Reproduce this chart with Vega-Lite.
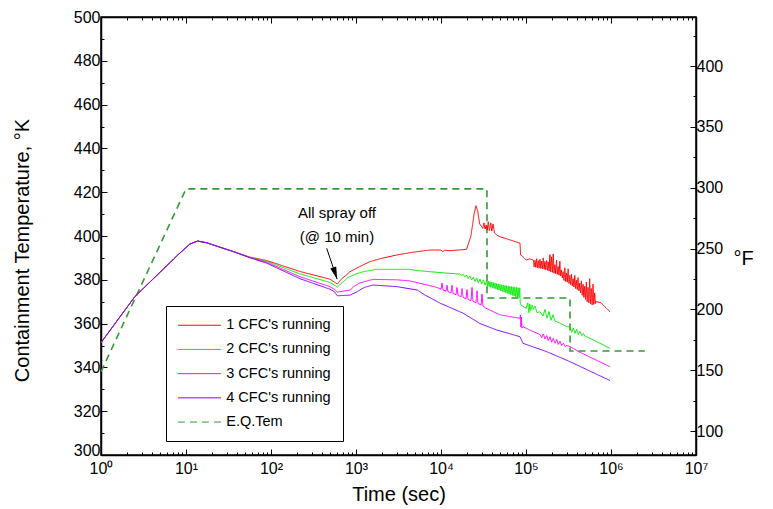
{
"$schema": "https://vega.github.io/schema/vega-lite/v6.json",
"width": 595, "height": 438,
"autosize": {"type": "none"},
"padding": {"left": 101, "top": 17, "right": 77, "bottom": 54},
"background": "white",
"config": {"view": {"stroke": "black", "strokeWidth": 1.5}, "font": "Liberation Sans", "axis": {"grid": false, "labelFont": "Liberation Sans", "titleFont": "Liberation Sans", "labelColor": "black", "titleColor": "black", "domainColor": "black", "domainWidth": 1.5, "tickColor": "black", "tickWidth": 1}},
"datasets": {
"curves": [
{"s":"E.Q.Tem","t":1,"k":338},{"s":"E.Q.Tem","t":10,"k":421.5},{"s":"E.Q.Tem","t":34700,"k":421.5},{"s":"E.Q.Tem","t":34800,"k":371.7},{"s":"E.Q.Tem","t":329000,"k":371.7},{"s":"E.Q.Tem","t":330000,"k":347.5},{"s":"E.Q.Tem","t":2500000,"k":347.5},

{"s":"1 CFC's running","t":1,"k":351.3},{"s":"1 CFC's running","t":2.5,"k":372.3},{"s":"1 CFC's running","t":5,"k":383.6},{"s":"1 CFC's running","t":8,"k":391.3},{"s":"1 CFC's running","t":11.1,"k":396.3},{"s":"1 CFC's running","t":13.7,"k":397.7},{"s":"1 CFC's running","t":17.5,"k":396.9},{"s":"1 CFC's running","t":25,"k":394.9},{"s":"1 CFC's running","t":36,"k":392.9},{"s":"1 CFC's running","t":56,"k":390.4},
{"s":"1 CFC's running","t":89,"k":388.8},{"s":"1 CFC's running","t":219,"k":383.8},{"s":"1 CFC's running","t":494,"k":380.3},{"s":"1 CFC's running","t":603,"k":378.1},{"s":"1 CFC's running","t":680,"k":380.5},{"s":"1 CFC's running","t":760,"k":382},{"s":"1 CFC's running","t":850,"k":383.7},{"s":"1 CFC's running","t":1100,"k":386},{"s":"1 CFC's running","t":1460,"k":388.3},{"s":"1 CFC's running","t":2000,"k":389.8},{"s":"1 CFC's running","t":3000,"k":391.3},{"s":"1 CFC's running","t":4500,"k":392.5},{"s":"1 CFC's running","t":7400,"k":393.6},{"s":"1 CFC's running","t":10000,"k":393.6},{"s":"1 CFC's running","t":10500,"k":392.8},{"s":"1 CFC's running","t":11000,"k":393.5},{"s":"1 CFC's running","t":12800,"k":393.3},{"s":"1 CFC's running","t":16000,"k":393.6},{"s":"1 CFC's running","t":20000,"k":393.9},{"s":"1 CFC's running","t":22500,"k":400},{"s":"1 CFC's running","t":24500,"k":410},{"s":"1 CFC's running","t":25800,"k":413.8},{"s":"1 CFC's running","t":27000,"k":411.5},{"s":"1 CFC's running","t":28500,"k":405.5},{"s":"1 CFC's running","t":30100,"k":404.2},{"s":"1 CFC's running","t":31000,"k":403.5},{"s":"1 CFC's running","t":32000,"k":406},{"s":"1 CFC's running","t":33000,"k":403.2},{"s":"1 CFC's running","t":34000,"k":405},{"s":"1 CFC's running","t":35000,"k":402.8},{"s":"1 CFC's running","t":36000,"k":406.5},{"s":"1 CFC's running","t":37000,"k":402.5},{"s":"1 CFC's running","t":38500,"k":406},{"s":"1 CFC's running","t":39500,"k":402.3},{"s":"1 CFC's running","t":41000,"k":405.5},{"s":"1 CFC's running","t":42500,"k":401.5},{"s":"1 CFC's running","t":45000,"k":400.5},{"s":"1 CFC's running","t":49400,"k":399.7},{"s":"1 CFC's running","t":64900,"k":398.2},{"s":"1 CFC's running","t":85000,"k":396.7},{"s":"1 CFC's running","t":86500,"k":391.3},{"s":"1 CFC's running","t":90000,"k":390.9},{"s":"1 CFC's running","t":95000,"k":390},{"s":"1 CFC's running","t":100600,"k":389},{"s":"1 CFC's running","t":110000,"k":389.5},{"s":"1 CFC's running","t":116000,"k":389.3},
{"s":"1 CFC's running","t":122000,"k":389},{"s":"1 CFC's running","t":124770,"k":385.9},{"s":"1 CFC's running","t":127600,"k":388.9},{"s":"1 CFC's running","t":130500,"k":385.7},{"s":"1 CFC's running","t":133470,"k":389.6},{"s":"1 CFC's running","t":136500,"k":385.5},{"s":"1 CFC's running","t":139600,"k":388.7},{"s":"1 CFC's running","t":142770,"k":385.3},{"s":"1 CFC's running","t":146000,"k":389.3},{"s":"1 CFC's running","t":149300,"k":385.2},{"s":"1 CFC's running","t":152700,"k":388.5},{"s":"1 CFC's running","t":156170,"k":385},{"s":"1 CFC's running","t":159700,"k":390},{"s":"1 CFC's running","t":163330,"k":384.8},{"s":"1 CFC's running","t":167040,"k":388.4},{"s":"1 CFC's running","t":170830,"k":384.6},{"s":"1 CFC's running","t":174700,"k":388.8},{"s":"1 CFC's running","t":178670,"k":384.3},{"s":"1 CFC's running","t":182730,"k":388.2},{"s":"1 CFC's running","t":186870,"k":384},{"s":"1 CFC's running","t":191110,"k":391.5},{"s":"1 CFC's running","t":195450,"k":383.6},{"s":"1 CFC's running","t":199890,"k":390.5},{"s":"1 CFC's running","t":204420,"k":383.4},{"s":"1 CFC's running","t":209060,"k":391.8},{"s":"1 CFC's running","t":213810,"k":383},{"s":"1 CFC's running","t":218660,"k":386.9},{"s":"1 CFC's running","t":223620,"k":382.8},{"s":"1 CFC's running","t":228700,"k":389},{"s":"1 CFC's running","t":233890,"k":382.5},{"s":"1 CFC's running","t":239200,"k":386},{"s":"1 CFC's running","t":244630,"k":382.1},{"s":"1 CFC's running","t":250180,"k":388.5},{"s":"1 CFC's running","t":255860,"k":381.7},{"s":"1 CFC's running","t":261670,"k":384.5},{"s":"1 CFC's running","t":267610,"k":380.9},{"s":"1 CFC's running","t":273680,"k":383.7},{"s":"1 CFC's running","t":279890,"k":379.7},{"s":"1 CFC's running","t":286240,"k":385.5},{"s":"1 CFC's running","t":292740,"k":379.2},{"s":"1 CFC's running","t":299390,"k":383},{"s":"1 CFC's running","t":306180,"k":378.9},{"s":"1 CFC's running","t":313130,"k":385},{"s":"1 CFC's running","t":320240,"k":378.3},{"s":"1 CFC's running","t":327510,"k":382},{"s":"1 CFC's running","t":334940,"k":377.8},{"s":"1 CFC's running","t":342540,"k":382.5},{"s":"1 CFC's running","t":350320,"k":377.2},{"s":"1 CFC's running","t":358270,"k":380.5},{"s":"1 CFC's running","t":366400,"k":376.7},{"s":"1 CFC's running","t":374720,"k":382},{"s":"1 CFC's running","t":383220,"k":376},{"s":"1 CFC's running","t":391920,"k":379.8},{"s":"1 CFC's running","t":400820,"k":375.6},{"s":"1 CFC's running","t":409920,"k":381},{"s":"1 CFC's running","t":419220,"k":375},{"s":"1 CFC's running","t":428740,"k":378.4},{"s":"1 CFC's running","t":438470,"k":374},{"s":"1 CFC's running","t":448420,"k":379.5},{"s":"1 CFC's running","t":458600,"k":372.9},{"s":"1 CFC's running","t":469010,"k":378},{"s":"1 CFC's running","t":479650,"k":372},{"s":"1 CFC's running","t":490540,"k":377},{"s":"1 CFC's running","t":501680,"k":371},{"s":"1 CFC's running","t":513060,"k":379},{"s":"1 CFC's running","t":524710,"k":370},{"s":"1 CFC's running","t":536620,"k":376.5},{"s":"1 CFC's running","t":548800,"k":369.5},{"s":"1 CFC's running","t":561260,"k":380.5},{"s":"1 CFC's running","t":574000,"k":369},{"s":"1 CFC's running","t":587020,"k":376},{"s":"1 CFC's running","t":600350,"k":368.5},{"s":"1 CFC's running","t":613970,"k":378},{"s":"1 CFC's running","t":627910,"k":368.8},{"s":"1 CFC's running","t":642160,"k":374},{"s":"1 CFC's running","t":656740,"k":369.2},{"s":"1 CFC's running","t":671640,"k":370},{"s":"1 CFC's running","t":760000,"k":369.5},{"s":"1 CFC's running","t":973000,"k":365.4},

{"s":"2 CFC's running","t":1,"k":351.3},{"s":"2 CFC's running","t":2.5,"k":372.3},{"s":"2 CFC's running","t":5,"k":383.6},{"s":"2 CFC's running","t":8,"k":391.3},{"s":"2 CFC's running","t":11.1,"k":396.3},{"s":"2 CFC's running","t":13.7,"k":397.7},{"s":"2 CFC's running","t":17.5,"k":396.9},{"s":"2 CFC's running","t":25,"k":394.9},{"s":"2 CFC's running","t":36,"k":392.9},{"s":"2 CFC's running","t":56,"k":390.3},
{"s":"2 CFC's running","t":89,"k":388.4},{"s":"2 CFC's running","t":219,"k":382.7},{"s":"2 CFC's running","t":494,"k":378.8},{"s":"2 CFC's running","t":603,"k":376.7},{"s":"2 CFC's running","t":680,"k":378.5},{"s":"2 CFC's running","t":800,"k":381},{"s":"2 CFC's running","t":1000,"k":382.7},{"s":"2 CFC's running","t":1220,"k":383.7},{"s":"2 CFC's running","t":1750,"k":384.8},{"s":"2 CFC's running","t":4300,"k":384.8},{"s":"2 CFC's running","t":5000,"k":384.3},{"s":"2 CFC's running","t":7400,"k":383.7},{"s":"2 CFC's running","t":12000,"k":383},
{"s":"2 CFC's running","t":16730,"k":382.6},{"s":"2 CFC's running","t":17500,"k":381.9},{"s":"2 CFC's running","t":18300,"k":382.5},{"s":"2 CFC's running","t":19150,"k":381.3},{"s":"2 CFC's running","t":20030,"k":382.2},{"s":"2 CFC's running","t":20950,"k":380.6},{"s":"2 CFC's running","t":21930,"k":381.8},{"s":"2 CFC's running","t":22930,"k":379.9},{"s":"2 CFC's running","t":23990,"k":381.2},{"s":"2 CFC's running","t":25100,"k":379.2},{"s":"2 CFC's running","t":26250,"k":380.9},{"s":"2 CFC's running","t":27460,"k":378.6},{"s":"2 CFC's running","t":28760,"k":380.3},{"s":"2 CFC's running","t":30080,"k":378.1},{"s":"2 CFC's running","t":31460,"k":380},{"s":"2 CFC's running","t":32930,"k":377.6},
{"s":"2 CFC's running","t":34440,"k":379.6},{"s":"2 CFC's running","t":35220,"k":377.2},{"s":"2 CFC's running","t":36020,"k":379.4},{"s":"2 CFC's running","t":36840,"k":376.9},{"s":"2 CFC's running","t":37680,"k":379.1},{"s":"2 CFC's running","t":38530,"k":376.6},{"s":"2 CFC's running","t":39410,"k":378.9},{"s":"2 CFC's running","t":40300,"k":376.4},{"s":"2 CFC's running","t":41220,"k":378.7},{"s":"2 CFC's running","t":42150,"k":376.1},{"s":"2 CFC's running","t":43110,"k":378.5},{"s":"2 CFC's running","t":44090,"k":375.8},{"s":"2 CFC's running","t":45090,"k":378.3},{"s":"2 CFC's running","t":46110,"k":375.5},{"s":"2 CFC's running","t":47160,"k":378.1},{"s":"2 CFC's running","t":48230,"k":375.3},{"s":"2 CFC's running","t":49320,"k":377.9},{"s":"2 CFC's running","t":50440,"k":375},{"s":"2 CFC's running","t":51590,"k":377.7},{"s":"2 CFC's running","t":52760,"k":374.7},{"s":"2 CFC's running","t":53960,"k":377.6},{"s":"2 CFC's running","t":55180,"k":374.4},{"s":"2 CFC's running","t":56430,"k":377.4},{"s":"2 CFC's running","t":57710,"k":374.1},{"s":"2 CFC's running","t":59020,"k":377.3},{"s":"2 CFC's running","t":60360,"k":373.8},{"s":"2 CFC's running","t":61730,"k":377.1},{"s":"2 CFC's running","t":63130,"k":373.5},{"s":"2 CFC's running","t":64560,"k":377},{"s":"2 CFC's running","t":66020,"k":373.2},{"s":"2 CFC's running","t":67520,"k":376.9},{"s":"2 CFC's running","t":69050,"k":372.9},{"s":"2 CFC's running","t":70620,"k":376.8},{"s":"2 CFC's running","t":72220,"k":372.6},{"s":"2 CFC's running","t":73860,"k":376.6},{"s":"2 CFC's running","t":75530,"k":372.3},{"s":"2 CFC's running","t":77240,"k":376.5},{"s":"2 CFC's running","t":78990,"k":372},{"s":"2 CFC's running","t":80780,"k":376.4},{"s":"2 CFC's running","t":82620,"k":371.8},{"s":"2 CFC's running","t":84490,"k":376.3},
{"s":"2 CFC's running","t":85500,"k":370},{"s":"2 CFC's running","t":87000,"k":368.5},{"s":"2 CFC's running","t":100600,"k":367},{"s":"2 CFC's running","t":105000,"k":369.5},{"s":"2 CFC's running","t":108000,"k":365},{"s":"2 CFC's running","t":111000,"k":369},{"s":"2 CFC's running","t":114000,"k":366},{"s":"2 CFC's running","t":118000,"k":368.5},{"s":"2 CFC's running","t":122000,"k":366.5},{"s":"2 CFC's running","t":127600,"k":368},{"s":"2 CFC's running","t":134700,"k":365},{"s":"2 CFC's running","t":146200,"k":365.4},{"s":"2 CFC's running","t":158500,"k":363.5},{"s":"2 CFC's running","t":167400,"k":366.5},{"s":"2 CFC's running","t":176600,"k":362.5},{"s":"2 CFC's running","t":186600,"k":365.5},{"s":"2 CFC's running","t":196800,"k":361.5},{"s":"2 CFC's running","t":207800,"k":364},{"s":"2 CFC's running","t":219300,"k":361},{"s":"2 CFC's running","t":229500,"k":360.9},{"s":"2 CFC's running","t":251200,"k":360.2},{"s":"2 CFC's running","t":272300,"k":359.5},{"s":"2 CFC's running","t":301000,"k":358.6},{"s":"2 CFC's running","t":329600,"k":358.5},{"s":"2 CFC's running","t":344800,"k":356},{"s":"2 CFC's running","t":360600,"k":358},{"s":"2 CFC's running","t":377300,"k":355.5},{"s":"2 CFC's running","t":394700,"k":357.5},{"s":"2 CFC's running","t":412700,"k":355},{"s":"2 CFC's running","t":431900,"k":356.5},{"s":"2 CFC's running","t":451800,"k":354.5},{"s":"2 CFC's running","t":472700,"k":355.5},{"s":"2 CFC's running","t":494500,"k":354.2},{"s":"2 CFC's running","t":566000,"k":353.3},{"s":"2 CFC's running","t":973000,"k":348.7},

{"s":"3 CFC's running","t":1,"k":351.3},{"s":"3 CFC's running","t":2.5,"k":372.3},{"s":"3 CFC's running","t":5,"k":383.6},{"s":"3 CFC's running","t":8,"k":391.3},{"s":"3 CFC's running","t":11.1,"k":396.3},{"s":"3 CFC's running","t":13.7,"k":397.7},{"s":"3 CFC's running","t":17.5,"k":396.9},{"s":"3 CFC's running","t":25,"k":394.9},{"s":"3 CFC's running","t":36,"k":392.9},{"s":"3 CFC's running","t":56,"k":390.2},
{"s":"3 CFC's running","t":89,"k":388},{"s":"3 CFC's running","t":219,"k":381.4},{"s":"3 CFC's running","t":494,"k":376.9},{"s":"3 CFC's running","t":560,"k":375.6},{"s":"3 CFC's running","t":603,"k":374.4},{"s":"3 CFC's running","t":850,"k":375.3},{"s":"3 CFC's running","t":950,"k":377},{"s":"3 CFC's running","t":1100,"k":378.5},{"s":"3 CFC's running","t":1220,"k":379},{"s":"3 CFC's running","t":1590,"k":380.2},{"s":"3 CFC's running","t":3000,"k":380},{"s":"3 CFC's running","t":4300,"k":379.5},{"s":"3 CFC's running","t":5660,"k":378.4},
{"s":"3 CFC's running","t":8970,"k":376.5},{"s":"3 CFC's running","t":10000,"k":375.7},{"s":"3 CFC's running","t":10280,"k":378.5},{"s":"3 CFC's running","t":10570,"k":375.4},{"s":"3 CFC's running","t":11460,"k":374.8},{"s":"3 CFC's running","t":11780,"k":377.5},{"s":"3 CFC's running","t":12080,"k":374.6},{"s":"3 CFC's running","t":13120,"k":374},{"s":"3 CFC's running","t":13470,"k":377.5},{"s":"3 CFC's running","t":13840,"k":373.8},{"s":"3 CFC's running","t":15010,"k":373.2},{"s":"3 CFC's running","t":15420,"k":376.5},{"s":"3 CFC's running","t":15850,"k":373},{"s":"3 CFC's running","t":17180,"k":372.2},{"s":"3 CFC's running","t":17660,"k":376},{"s":"3 CFC's running","t":18160,"k":372},{"s":"3 CFC's running","t":19680,"k":371.3},{"s":"3 CFC's running","t":20230,"k":375.5},{"s":"3 CFC's running","t":20800,"k":371},{"s":"3 CFC's running","t":22550,"k":370.5},{"s":"3 CFC's running","t":23170,"k":376.5},{"s":"3 CFC's running","t":23790,"k":370.2},{"s":"3 CFC's running","t":25820,"k":369.5},{"s":"3 CFC's running","t":26550,"k":375},{"s":"3 CFC's running","t":27230,"k":369.2},{"s":"3 CFC's running","t":29580,"k":368.5},{"s":"3 CFC's running","t":30340,"k":373.5},{"s":"3 CFC's running","t":31190,"k":368},{"s":"3 CFC's running","t":33810,"k":367},
{"s":"3 CFC's running","t":49460,"k":364},{"s":"3 CFC's running","t":85050,"k":362.4},{"s":"3 CFC's running","t":86000,"k":364},{"s":"3 CFC's running","t":87100,"k":358.5},{"s":"3 CFC's running","t":88300,"k":363},{"s":"3 CFC's running","t":89600,"k":358},{"s":"3 CFC's running","t":92200,"k":358.6},{"s":"3 CFC's running","t":111400,"k":357},{"s":"3 CFC's running","t":146200,"k":355},
{"s":"3 CFC's running","t":152700,"k":353.5},{"s":"3 CFC's running","t":160000,"k":355.3},{"s":"3 CFC's running","t":167400,"k":353},{"s":"3 CFC's running","t":175100,"k":354.5},{"s":"3 CFC's running","t":183000,"k":352.3},{"s":"3 CFC's running","t":191600,"k":354},{"s":"3 CFC's running","t":200600,"k":351.5},{"s":"3 CFC's running","t":209700,"k":353.3},{"s":"3 CFC's running","t":219300,"k":351},{"s":"3 CFC's running","t":229500,"k":352.8},{"s":"3 CFC's running","t":239900,"k":350.5},{"s":"3 CFC's running","t":251200,"k":352},{"s":"3 CFC's running","t":263000,"k":350},{"s":"3 CFC's running","t":274900,"k":351},{"s":"3 CFC's running","t":287700,"k":349.5},
{"s":"3 CFC's running","t":301000,"k":350},{"s":"3 CFC's running","t":329600,"k":349.5},{"s":"3 CFC's running","t":431900,"k":346.9},{"s":"3 CFC's running","t":973000,"k":340.3},

{"s":"4 CFC's running","t":1,"k":351.3},{"s":"4 CFC's running","t":2.5,"k":372.3},{"s":"4 CFC's running","t":5,"k":383.6},{"s":"4 CFC's running","t":8,"k":391.3},{"s":"4 CFC's running","t":11.1,"k":396.3},{"s":"4 CFC's running","t":13.7,"k":397.7},{"s":"4 CFC's running","t":17.5,"k":396.9},{"s":"4 CFC's running","t":25,"k":394.9},{"s":"4 CFC's running","t":36,"k":392.9},{"s":"4 CFC's running","t":56,"k":390.1},
{"s":"4 CFC's running","t":89,"k":387.6},{"s":"4 CFC's running","t":219,"k":380.5},{"s":"4 CFC's running","t":494,"k":375.7},{"s":"4 CFC's running","t":560,"k":374.5},{"s":"4 CFC's running","t":603,"k":372.7},{"s":"4 CFC's running","t":850,"k":373},{"s":"4 CFC's running","t":1000,"k":374.3},{"s":"4 CFC's running","t":1250,"k":376.5},{"s":"4 CFC's running","t":1590,"k":377.6},{"s":"4 CFC's running","t":3000,"k":376.9},{"s":"4 CFC's running","t":5300,"k":375.3},{"s":"4 CFC's running","t":5660,"k":374.5},{"s":"4 CFC's running","t":6500,"k":373},{"s":"4 CFC's running","t":9800,"k":369.3},{"s":"4 CFC's running","t":18300,"k":364.7},{"s":"4 CFC's running","t":28800,"k":360},{"s":"4 CFC's running","t":45200,"k":357.1},{"s":"4 CFC's running","t":85050,"k":354},{"s":"4 CFC's running","t":88500,"k":352.5},{"s":"4 CFC's running","t":92200,"k":351},{"s":"4 CFC's running","t":175000,"k":347.2},{"s":"4 CFC's running","t":330000,"k":342.6},{"s":"4 CFC's running","t":973000,"k":334}
]
},
"layer": [
{
"data": {"name": "curves"},
"mark": {"type": "line", "clip": true},
"encoding": {
"x": {"field": "t", "type": "quantitative", "scale": {"type": "log", "domain": [1, 10000000], "nice": false},
 "axis": {"orient": "bottom", "values": [1,2,3,4,5,6,7,8,9,10,20,30,40,50,60,70,80,90,100,200,300,400,500,600,700,800,900,1000,2000,3000,4000,5000,6000,7000,8000,9000,10000,20000,30000,40000,50000,60000,70000,80000,90000,100000,200000,300000,400000,500000,600000,700000,800000,900000,1000000,2000000,3000000,4000000,5000000,6000000,7000000,8000000,9000000,10000000],
  "labelExpr": "abs(log(datum.value)/LN10 - round(log(datum.value)/LN10)) < 0.001 ? '10' + ['⁰','¹','²','³','⁴','⁵','⁶','⁷'][round(log(datum.value)/LN10)] : ''",
  "tickSize": {"condition": {"test": "abs(log(datum.value)/LN10 - round(log(datum.value)/LN10)) < 0.001", "value": -6}, "value": -3},
  "labelPadding": 11, "labelFontSize": 16, "labelFlush": false, "labelOverlap": false, "labelBound": false,
  "title": "Time (sec)", "titleFontSize": 20, "titleFontWeight": "normal", "titleX": 297.5, "titleY": 39, "titleAlign": "center", "titleBaseline": "middle"}},
"y": {"field": "k", "type": "quantitative", "scale": {"domain": [300, 500], "nice": false, "zero": false},
 "axis": {"orient": "left", "values": [300,310,320,330,340,350,360,370,380,390,400,410,420,430,440,450,460,470,480,490,500],
  "labelExpr": "datum.value % 20 === 0 ? datum.label : ''",
  "tickSize": {"condition": {"test": "datum.value % 20 === 0", "value": -6}, "value": -3},
  "labelBaseline": {"condition": {"test": "datum.value === 300", "value": "alphabetic"}, "value": "middle"},
  "labelPadding": 7, "labelFontSize": 16, "labelOverlap": false, "labelBound": false, "labelFlush": false,
  "title": "Containment Temperature, °K", "titleFontSize": 20, "titleFontWeight": "normal", "titleX": -79, "titleY": 233, "titleAngle": 270, "titleAlign": "center", "titleBaseline": "middle"}},
"color": {"field": "s", "type": "nominal",
 "scale": {"domain": ["1 CFC's running", "2 CFC's running", "3 CFC's running", "4 CFC's running", "E.Q.Tem"], "range": ["#ff0000", "#00ee00", "#ff00ff", "#8000ff", "#339933"]},
 "legend": {"title": null, "orient": "none", "legendX": 65, "legendY": 289, "symbolType": "M-8,0L8,0", "symbolSize": 29, "symbolStrokeWidth": 1, "symbolOffset": 14.25, "labelOffset": 19.5, "labelFontSize": 14.5, "labelColor": "black", "labelLimit": 300, "rowPadding": 9.2, "padding": 12, "strokeColor": "black", "fillColor": "white"}},
"strokeDash": {"field": "s", "type": "nominal",
 "scale": {"domain": ["1 CFC's running", "2 CFC's running", "3 CFC's running", "4 CFC's running", "E.Q.Tem"], "range": [[1,0],[1,0],[1,0],[1,0],[7,5]]},
 "legend": {"title": null, "orient": "none", "legendX": 65, "legendY": 289, "symbolType": "M-8,0L8,0", "symbolSize": 29, "symbolStrokeWidth": 1, "symbolOffset": 14.25, "labelOffset": 19.5, "labelFontSize": 14.5, "labelColor": "black", "labelLimit": 300, "rowPadding": 9.2, "padding": 12, "strokeColor": "black", "fillColor": "white"}},
"strokeWidth": {"condition": {"test": "datum.s === 'E.Q.Tem'", "value": 1.6}, "value": 1}
}
},
{
"data": {"values": [{"t": 597, "k": 410.4, "label": "All spray off"}, {"t": 597, "k": 399.7, "label": "(@ 10 min)"}]},
"mark": {"type": "text", "fontSize": 15, "align": "center", "baseline": "middle", "color": "black"},
"encoding": {
"x": {"field": "t", "type": "quantitative", "scale": {"type": "log", "domain": [1, 10000000], "nice": false}, "axis": null},
"y": {"field": "k", "type": "quantitative", "scale": {"domain": [300, 500], "nice": false, "zero": false}, "axis": null},
"text": {"field": "label"}
}
},
{
"data": {"values": [{"t": 452, "k": 394.4, "t2": 600, "k2": 380.3}]},
"mark": {"type": "rule", "color": "black", "strokeWidth": 1},
"encoding": {
"x": {"field": "t", "type": "quantitative", "scale": {"type": "log", "domain": [1, 10000000], "nice": false}, "axis": null},
"y": {"field": "k", "type": "quantitative", "scale": {"domain": [300, 500], "nice": false, "zero": false}, "axis": null},
"x2": {"field": "t2"},
"y2": {"field": "k2"}
}
},
{
"data": {"values": [{"t": 600, "k": 380.3}]},
"mark": {"type": "point", "shape": "M0,0L-0.28,-1.1L0.28,-1.1Z", "size": 500, "filled": true, "color": "black", "opacity": 1, "angle": -18.5},
"encoding": {
"x": {"field": "t", "type": "quantitative", "scale": {"type": "log", "domain": [1, 10000000], "nice": false}, "axis": null},
"y": {"field": "k", "type": "quantitative", "scale": {"domain": [300, 500], "nice": false, "zero": false}, "axis": null}
}
},
{
"data": {"values": [{"t": 1, "f": 80.33}, {"t": 10000000, "f": 440.33}]},
"mark": {"type": "point", "opacity": 0},
"encoding": {
"x": {"field": "t", "type": "quantitative", "scale": {"type": "log", "domain": [1, 10000000], "nice": false},
 "axis": {"orient": "top", "values": [1,2,3,4,5,6,7,8,9,10,20,30,40,50,60,70,80,90,100,200,300,400,500,600,700,800,900,1000,2000,3000,4000,5000,6000,7000,8000,9000,10000,20000,30000,40000,50000,60000,70000,80000,90000,100000,200000,300000,400000,500000,600000,700000,800000,900000,1000000,2000000,3000000,4000000,5000000,6000000,7000000,8000000,9000000,10000000],
  "labels": false, "title": null,
  "tickSize": {"condition": {"test": "abs(log(datum.value)/LN10 - round(log(datum.value)/LN10)) < 0.001", "value": -6}, "value": -3}}},
"y": {"field": "f", "type": "quantitative", "scale": {"domain": [80.33, 440.33], "nice": false, "zero": false},
 "axis": {"orient": "right", "values": [100,125,150,175,200,225,250,275,300,325,350,375,400,425],
  "labelExpr": "datum.value % 50 === 0 ? datum.label : ''",
  "tickSize": {"condition": {"test": "datum.value % 50 === 0", "value": -6}, "value": -3},
  "labelPadding": 6, "labelFontSize": 16, "labelOverlap": false, "labelBound": false, "labelFlush": false,
  "title": "°F", "titleFontSize": 20, "titleFontWeight": "normal", "titleAngle": 0, "titleX": 47, "titleY": 241, "titleAlign": "center", "titleBaseline": "middle"}}
}
}
],
"resolve": {"scale": {"y": "independent"}, "axis": {"y": "independent", "x": "independent"}}
}
